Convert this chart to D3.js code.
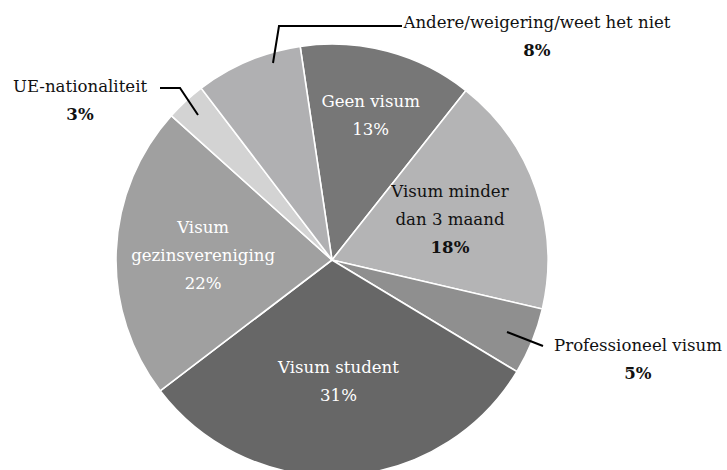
<!DOCTYPE html>
<html>
<head>
<meta charset="utf-8">
<script src="https://cdn.jsdelivr.net/npm/d3@7"></script>
<style>
  body { margin: 0; background: #fff; }
  svg text { font-family: "DejaVu Serif", serif; font-size: 16.6px; }
</style>
</head>
<body>
<svg id="chart"></svg>
<script>
var width = 727,
    height = 470

// data
var categories = ["Geen visum", "Visum minder dan 3 maand", "Professioneel visum", "Visum student",
                  "Visum gezinsvereniging", "UE-nationaliteit", "Andere/weigering/weet het niet"]
var values = [13, 18, 5, 31, 22, 3, 8]
var colors = ["#777777", "#b4b4b5", "#8f8f8f", "#676767", "#a0a0a0", "#d3d3d3", "#b0b0b2"]

// label lines inside the slices (text split into lines)
var labelLines = [["Geen visum"], ["Visum minder", "dan 3 maand"], ["Professioneel visum"], ["Visum student"],
                  ["Visum", "gezinsvereniging"], ["UE-nationaliteit"], ["Andere/weigering/weet het niet"]]

var cx = 332, cy = 260, radius = 216
var lineH = 28

var svg = d3.select("svg#chart")
    .attr("width", width)
    .attr("height", height)

var pie = d3.pie()
    .sort(null)
    .value(function(d){ return d })
    .startAngle(-0.148)
    .endAngle(2 * Math.PI - 0.148)

var arcs = pie(values)

var arc = d3.arc().innerRadius(0).outerRadius(radius)

var g = svg.append("g")
    .attr("transform", "translate(" + cx + "," + cy + ")")

g.selectAll("path")
    .data(arcs)
    .enter()
    .append("path")
    .attr("d", arc)
    .attr("fill", function(d, i){ return colors[i] })
    .attr("stroke", "#fff")
    .attr("stroke-width", 1.6)

// label placement: inside ones on a radius, outside ones at a fixed spot
var inside = {0: 150, 1: 125, 3: 121, 4: 129}
var outside = {
    2: {x: 638, y: 345, line: [[175, 72], [211, 86]]},
    5: {x: 80, y: 86, line: [[-172, -172], [-152, -172], [-134, -145]]},
    6: {x: 537, y: 22, line: [[-59, -197], [-53, -234], [70, -234]]}
}

arcs.forEach(function(d, i){
    var lines = labelLines[i].concat([values[i] + "%"])
    var x, y, fill, boldPct
    if (inside[i] !== undefined) {
        var a = (d.startAngle + d.endAngle) / 2
        var r = inside[i]
        x = Math.sin(a) * r
        y = -Math.cos(a) * r - (lines.length - 1) * lineH / 2
        fill = (i == 1) ? "#111" : "#fff"
        boldPct = (i == 1)
    } else {
        var o = outside[i]
        x = o.x - cx
        y = o.y - cy
        fill = "#111"
        boldPct = true
        g.append("polyline")
            .attr("points", o.line.map(function(p){ return p.join(",") }).join(" "))
            .attr("fill", "none")
            .attr("stroke", "#000")
            .attr("stroke-width", 2)
    }
    var t = g.append("text")
        .attr("text-anchor", "middle")
        .attr("fill", fill)
    lines.forEach(function(l, k){
        t.append("tspan")
            .attr("x", x)
            .attr("y", y + k * lineH)
            .attr("dy", "0.35em")
            .attr("font-weight", (k == lines.length - 1 && boldPct) ? "bold" : null)
            .text(l)
    })
})
</script>
</body>
</html>
